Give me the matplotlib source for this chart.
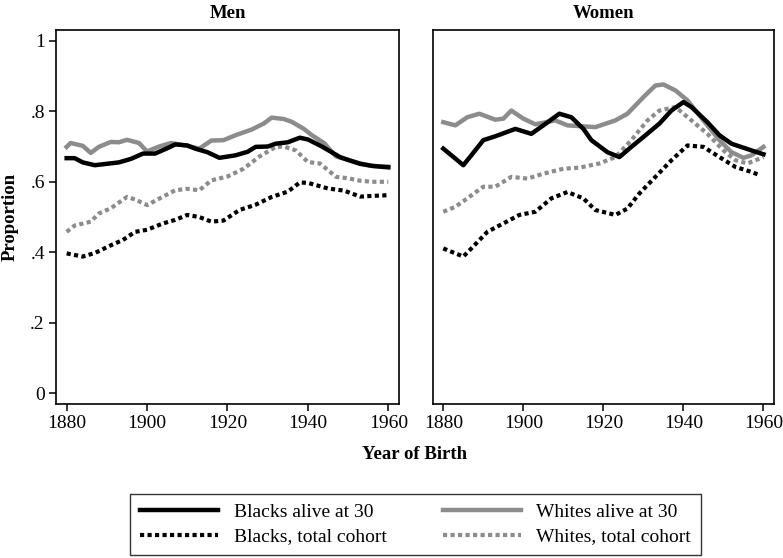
import matplotlib
matplotlib.use("Agg")
import matplotlib.pyplot as plt

plt.rcParams['font.family'] = ['Liberation Serif', 'DejaVu Serif']

# Men
men_bl30_x = [1880, 1882, 1884, 1887, 1890, 1893, 1896, 1899, 1902, 1905, 1907, 1910, 1912, 1915,
              1918, 1922, 1925, 1927, 1930, 1932, 1935, 1938, 1940, 1943, 1945, 1948, 1950, 1953,
              1956, 1960]
men_bl30_y = [0.667, 0.667, 0.655, 0.647, 0.651, 0.655, 0.665, 0.680, 0.680, 0.695, 0.706, 0.703,
              0.694, 0.684, 0.668, 0.675, 0.685, 0.699, 0.700, 0.708, 0.712, 0.725, 0.720, 0.703,
              0.690, 0.670, 0.662, 0.651, 0.645, 0.641]

men_wh30_x = [1880, 1881, 1884, 1886, 1888, 1891, 1893, 1895, 1898, 1900, 1903, 1906, 1910, 1913,
              1916, 1919, 1922, 1926, 1929, 1931, 1934, 1936, 1939, 1941, 1944, 1947, 1950, 1953,
              1956, 1960]
men_wh30_y = [0.699, 0.710, 0.702, 0.682, 0.699, 0.713, 0.712, 0.719, 0.710, 0.686, 0.700, 0.710,
              0.702, 0.694, 0.717, 0.718, 0.732, 0.748, 0.765, 0.782, 0.778, 0.770, 0.750, 0.732,
              0.710, 0.672, 0.662, 0.652, 0.645, 0.643]

men_whtot_x = [1880, 1882, 1886, 1888, 1891, 1895, 1897, 1900, 1903, 1907, 1910, 1913, 1916, 1920,
               1924, 1928, 1932, 1934, 1937, 1940, 1943, 1947, 1950, 1953, 1956, 1960]
men_whtot_y = [0.458, 0.476, 0.487, 0.510, 0.525, 0.557, 0.550, 0.534, 0.552, 0.576, 0.580, 0.576,
               0.604, 0.615, 0.637, 0.672, 0.699, 0.700, 0.689, 0.656, 0.652, 0.614, 0.610, 0.603,
               0.600, 0.600]

men_bltot_x = [1880, 1884, 1887, 1891, 1894, 1897, 1900, 1904, 1907, 1910, 1913, 1916, 1919, 1923,
               1927, 1931, 1935, 1938, 1940, 1945, 1949, 1953, 1956, 1960]
men_bltot_y = [0.397, 0.388, 0.398, 0.420, 0.435, 0.458, 0.464, 0.482, 0.492, 0.506, 0.500, 0.487,
               0.490, 0.520, 0.535, 0.557, 0.572, 0.598, 0.597, 0.581, 0.575, 0.558, 0.560, 0.562]

# Women
wom_bl30_x = [1880, 1883, 1885, 1887, 1890, 1893, 1898, 1902, 1905, 1909, 1912, 1915, 1917, 1921,
              1924, 1927, 1930, 1934, 1937, 1940, 1942, 1946, 1949, 1952, 1957, 1960]
wom_bl30_y = [0.694, 0.666, 0.647, 0.675, 0.718, 0.729, 0.750, 0.736, 0.760, 0.793, 0.783, 0.750,
              0.718, 0.684, 0.670, 0.699, 0.727, 0.765, 0.802, 0.826, 0.812, 0.769, 0.732, 0.708,
              0.689, 0.678]

wom_wh30_x = [1880, 1883, 1886, 1889, 1893, 1895, 1897, 1900, 1903, 1908, 1911, 1918, 1923, 1926,
              1930, 1933, 1935, 1938, 1941, 1945, 1949, 1952, 1955, 1957, 1960]
wom_wh30_y = [0.769, 0.760, 0.783, 0.793, 0.776, 0.779, 0.802, 0.779, 0.763, 0.774, 0.760, 0.755,
              0.774, 0.793, 0.840, 0.873, 0.876, 0.859, 0.831, 0.774, 0.718, 0.684, 0.668, 0.675,
              0.699]

wom_whtot_x = [1880, 1883, 1886, 1890, 1893, 1897, 1901, 1905, 1910, 1914, 1919, 1923, 1927, 1931,
               1934, 1938, 1942, 1946, 1950, 1953, 1956, 1960]
wom_whtot_y = [0.515, 0.529, 0.553, 0.586, 0.586, 0.614, 0.609, 0.623, 0.637, 0.640, 0.652, 0.670,
               0.718, 0.774, 0.802, 0.812, 0.774, 0.736, 0.689, 0.661, 0.652, 0.670]

wom_bltot_x = [1880, 1885, 1887, 1891, 1895, 1899, 1903, 1907, 1911, 1915, 1918, 1923, 1926, 1929,
               1933, 1937, 1941, 1945, 1949, 1953, 1957, 1959]
wom_bltot_y = [0.411, 0.388, 0.411, 0.458, 0.482, 0.506, 0.515, 0.553, 0.571, 0.553, 0.520, 0.506,
               0.524, 0.567, 0.614, 0.661, 0.703, 0.699, 0.670, 0.642, 0.628, 0.619]

x_ticks = [1880, 1900, 1920, 1940, 1960]
y_ticks = [0, 0.2, 0.4, 0.6, 0.8, 1]
y_tick_labels = ['0', '.2', '.4', '.6', '.8', '1']

GRAY = '#8c8c8c'
SOLID_LW = 3.2
DOT_LW = 3.0
DOTS = (0, (1, 0.8))

fig = plt.figure(figsize=(7.83, 5.58), dpi=100)
ax_m = fig.add_axes([0.0715, 0.276, 0.438, 0.670])
ax_w = fig.add_axes([0.5526, 0.276, 0.436, 0.670])

panels = [
    (ax_m, 'Men', men_bl30_x, men_bl30_y, men_wh30_x, men_wh30_y,
     men_bltot_x, men_bltot_y, men_whtot_x, men_whtot_y),
    (ax_w, 'Women', wom_bl30_x, wom_bl30_y, wom_wh30_x, wom_wh30_y,
     wom_bltot_x, wom_bltot_y, wom_whtot_x, wom_whtot_y),
]

for ax, title, bx, by, wx, wy, btx, bty, wtx, wty in panels:
    ax.plot(wtx, wty, color=GRAY, lw=DOT_LW, linestyle=DOTS, dash_capstyle='butt',
            label='Whites, total cohort')
    ax.plot(btx, bty, color='black', lw=DOT_LW, linestyle=DOTS, dash_capstyle='butt',
            label='Blacks, total cohort')
    ax.plot(wx, wy, color=GRAY, lw=SOLID_LW, solid_joinstyle='round', label='Whites alive at 30')
    ax.plot(bx, by, color='black', lw=SOLID_LW, solid_joinstyle='round', label='Blacks alive at 30')
    ax.set_xlim(1877.35, 1962.65)
    ax.set_ylim(-0.03, 1.03)
    ax.set_xticks(x_ticks)
    ax.set_xticklabels([str(t) for t in x_ticks])
    ax.set_title(title, fontsize=13.5, fontweight='bold', pad=9)
    for s in ax.spines.values():
        s.set_linewidth(1.2)
    ax.tick_params(axis='x', direction='out', length=5, width=1.1, labelsize=14, pad=3)

ax_m.set_yticks(y_ticks)
ax_m.set_yticklabels(y_tick_labels)
ax_m.tick_params(axis='y', direction='out', length=5, width=1.1, labelsize=14, pad=3)
ax_m.set_ylabel('Proportion', fontsize=13.5, fontweight='bold', labelpad=8)
ax_w.set_yticks([])

fig.text(0.53, 0.186, 'Year of Birth', ha='center', va='center', fontsize=13.5, fontweight='bold')

h, l = ax_m.get_legend_handles_labels()
order = [3, 1, 2, 0]
leg = fig.legend([h[i] for i in order], [l[i] for i in order], ncol=2, loc='center',
                 bbox_to_anchor=(0.5307, 0.06), fontsize=14, handlelength=4.0,
                 columnspacing=2.9, handletextpad=0.8, fancybox=False, frameon=True,
                 borderpad=0.5, labelspacing=0.35)
leg.get_frame().set_edgecolor('black')
leg.get_frame().set_linewidth(1.0)

fig.savefig('out.png', dpi=100)
